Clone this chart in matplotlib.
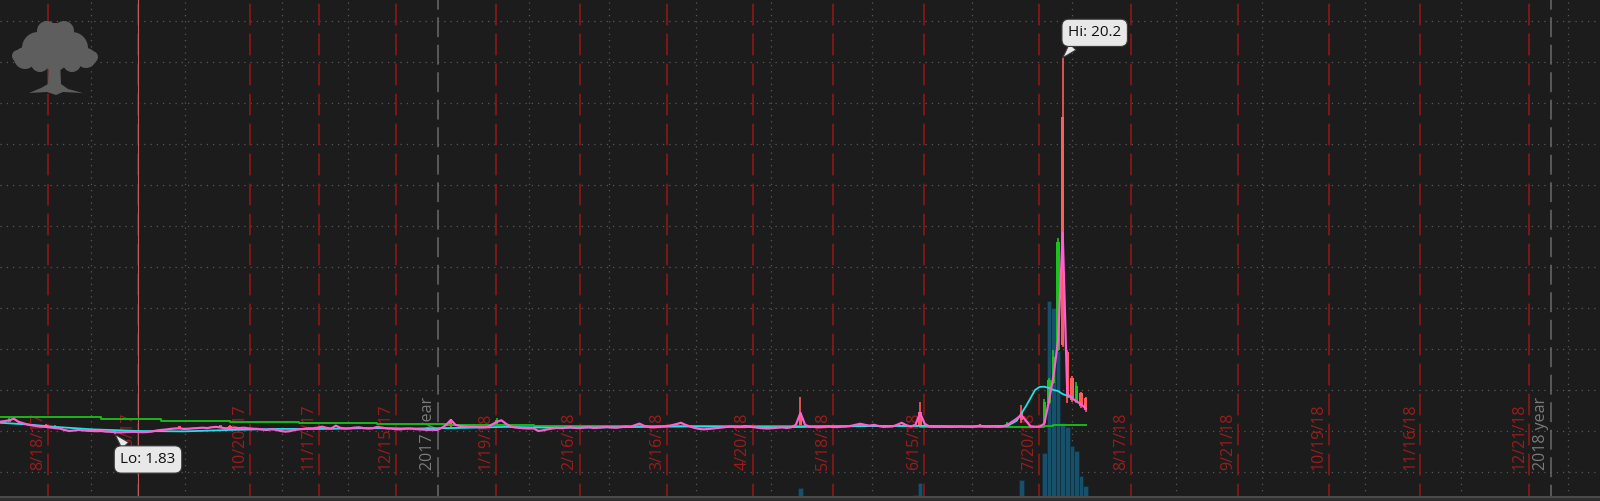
import matplotlib
matplotlib.use("Agg")
import matplotlib.pyplot as plt
import matplotlib.transforms as mtransforms
from matplotlib.patches import Circle, Polygon

# x axis = trading bar index (one unit per bar)
close_line = [
    2.45, 2.48, 2.52, 2.60, 2.45, 2.38, 2.31, 2.27, 2.24, 2.21,
    2.20, 2.17, 2.14, 2.12, 2.05, 2.00, 2.02, 2.05, 2.03, 2.01,
    2.00, 1.99, 2.00, 1.97, 1.96, 1.94, 1.93, 1.94, 1.95, 1.96,
    1.95, 1.94, 1.95, 1.97, 2.02, 2.05, 2.07, 2.10, 2.12, 2.13,
    2.10, 2.11, 2.13, 2.14, 2.16, 2.14, 2.18, 2.20, 2.17, 2.13,
    2.15, 2.16, 2.14, 2.16, 2.13, 2.11, 2.10, 2.07, 2.05, 2.08,
    2.06, 2.00, 1.97, 1.99, 2.05, 2.08, 2.10, 2.13, 2.13, 2.16,
    2.21, 2.15, 2.12, 2.26, 2.15, 2.12, 2.13, 2.16, 2.18, 2.14,
    2.12, 2.13, 2.20, 2.16, 2.13, 2.12, 2.09, 2.08, 2.11, 2.12,
    2.10, 2.08, 2.07, 2.05, 2.06, 2.05, 2.15, 2.30, 2.54, 2.30,
    2.24, 2.22, 2.20, 2.20, 2.19, 2.18, 2.20, 2.32, 2.45, 2.52,
    2.35, 2.22, 2.17, 2.15, 2.13, 2.12, 2.13, 2.00, 2.03, 2.08,
    2.12, 2.15, 2.14, 2.16, 2.18, 2.15, 2.14, 2.17, 2.19, 2.15,
    2.16, 2.18, 2.20, 2.17, 2.16, 2.19, 2.22, 2.20, 2.28, 2.36,
    2.25, 2.20, 2.18, 2.20, 2.22, 2.24, 2.28, 2.33, 2.40, 2.30,
    2.22, 2.15, 2.10, 2.08, 2.10, 2.12, 2.15, 2.17, 2.20, 2.22,
    2.20, 2.20, 2.24, 2.22, 2.18, 2.15, 2.13, 2.12, 2.14, 2.16,
    2.18, 2.15, 2.18, 2.30, 2.88, 2.30, 2.20, 2.20, 2.18, 2.20,
    2.21, 2.20, 2.19, 2.21, 2.22, 2.25, 2.30, 2.35, 2.30, 2.26,
    2.30, 2.24, 2.20, 2.21, 2.22, 2.30, 2.40, 2.28, 2.22, 2.30,
    2.88, 2.35, 2.22, 2.20, 2.20, 2.21, 2.20, 2.20, 2.21, 2.22,
    2.21, 2.20, 2.22, 2.26, 2.22, 2.21, 2.22, 2.20, 2.23, 2.30,
    2.45, 2.60, 2.78, 2.50, 2.23, 2.21, 2.22, 2.35, 3.45, 4.70,
    6.40, 11.67, 3.80, 3.60, 3.45, 3.30, 3.10,
]

fast_idx = [0, 6, 12, 20, 30, 40, 50, 60, 70, 80, 90, 100, 110, 120, 130, 140,
            150, 160, 170, 180, 190, 200, 210, 219, 221, 223, 225, 226, 227,
            228, 229, 230, 231, 232, 233]
fast_val = [2.40, 2.32, 2.20, 2.08, 2.00, 1.98, 2.05, 2.10, 2.10, 2.14, 2.12,
            2.15, 2.20, 2.16, 2.17, 2.20, 2.22, 2.20, 2.18, 2.22, 2.24, 2.25,
            2.23, 2.25, 2.50, 3.20, 4.00, 4.15, 4.16, 4.10, 4.00, 3.95, 3.80,
            3.72, 3.65]

slow_idx = [0, 22, 35, 50, 65, 82, 97, 116, 160, 200, 226, 227, 229, 236]
slow_val = [2.70, 2.58, 2.50, 2.43, 2.37, 2.33, 2.27, 2.25, 2.22, 2.20, 2.20,
            2.26, 2.28, 2.29]

candle_idx = [2, 10, 12, 25, 39, 48, 50, 98, 108, 129, 139, 143, 147, 156,
              174, 200, 213, 219, 222, 227, 228, 229, 230, 231, 232, 233, 234,
              235, 236]
candle_open = [2.45, 2.30, 2.12, 1.96, 2.22, 2.15, 2.25, 2.45, 2.30, 2.26, 2.35,
               2.28, 2.36, 2.14, 2.90, 2.95, 2.30, 2.20, 2.94, 2.37, 3.37, 4.34,
               5.95, 17.30, 5.87, 4.60, 3.40, 3.85, 3.60]
candle_high = [2.65, 2.32, 2.28, 1.99, 2.25, 2.30, 2.27, 2.60, 2.62, 2.30, 2.40,
               2.30, 2.38, 2.28, 3.67, 3.43, 2.35, 2.42, 3.27, 3.55, 4.60, 5.95,
               11.40, 20.20, 5.95, 4.70, 4.40, 3.90, 3.67]
candle_low = [2.42, 2.18, 2.10, 1.83, 2.10, 2.13, 2.12, 2.20, 2.28, 2.13, 2.20,
              2.16, 2.22, 2.12, 2.22, 2.20, 2.18, 2.18, 2.39, 2.30, 3.30, 4.30,
              5.90, 6.11, 3.35, 3.40, 3.35, 3.12, 2.94]
candle_close = [2.60, 2.20, 2.25, 1.93, 2.12, 2.27, 2.14, 2.30, 2.55, 2.15, 2.25,
                2.18, 2.24, 2.26, 2.30, 2.30, 2.20, 2.38, 2.54, 3.43, 4.49, 5.62,
                11.23, 6.20, 3.60, 3.50, 4.20, 3.20, 3.00]

vol_idx = [173, 174, 199, 200, 221, 222, 227, 228, 229, 230, 231, 232, 233,
           234, 235, 236]
vol_m = [0.1, 0.9, 0.2, 1.4, 0.1, 1.7, 4.4, 19.6, 18.9, 14.6, 7.4, 7.0, 5.1,
         4.6, 2.1, 1.1]

tick_pos = [10.4, 30, 54.3, 69.3, 86, 107.8, 126, 145, 163.7, 181, 200.9,
            225.9, 245.9, 269.1, 288.9, 308.7, 332.4]
tick_labels = ['8/18/17', '9/15/17', '10/20/17', '11/17/17', '12/15/17',
               '1/19/18', '2/16/18', '3/16/18', '4/20/18', '5/18/18',
               '6/15/18', '7/20/18', '8/17/18', '9/21/18', '10/19/18',
               '11/16/18', '12/21/18']
year_pos = [95.2, 337.2]
year_labels = ['2017 year', '2018 year']
minor_pos = [19.8, 40.2, 61.3, 75.7, 115, 132.4, 151.3, 167.6, 189.6, 211.3,
             233, 255.7, 274.3, 296.7, 317.6, 340.9]
cursor_pos = 30
price_grid = [0, 2, 4, 6, 8, 10, 12, 14, 16, 18, 20, 22]

hi_idx, hi_val = 231, 20.2
lo_idx, lo_val = 25, 1.83

BG = '#1c1c1c'
RED_T = '#8e1818'
UP = '#1cc21c'
DN = '#ff5c5c'

fig = plt.figure(figsize=(16, 5.01), dpi=100, facecolor='#2e2e2e')
ax = fig.add_axes([0, 4 / 501, 1, 497 / 501])
ax.set_facecolor(BG)
ax.set_xlim(0, 347.8)
ax.set_ylim(-1.22, 23.02)
ax.set_xticks([])
ax.set_yticks([])
for s in ['top', 'left', 'right']:
    ax.spines[s].set_visible(False)
ax.spines['bottom'].set_color('#4a4a4a')
ax.spines['bottom'].set_linewidth(1.5)

# grid
for p in price_grid:
    ax.axhline(p, color='#585858', lw=0.9, ls=(0, (1.0, 4.0)), zorder=0.5)
for m in minor_pos:
    ax.axvline(m, color='#585858', lw=0.9, ls=(0, (1.0, 4.0)), zorder=0.5)

# month lines and labels
xt = ax.get_xaxis_transform()
lab_tr = mtransforms.offset_copy(xt, fig=fig, x=-2, y=0, units='dots')
for pos, lab in zip(tick_pos, tick_labels):
    ax.axvline(pos, color=RED_T, lw=1.2, ls=(5, (13, 5)), zorder=0.6)
    ax.text(pos, 0.055, lab, transform=lab_tr, rotation=90, ha='right',
            va='bottom', color='#9a1c1c', fontsize=11.5, family='Open Sans',
            zorder=0.7)
for pos, lab in zip(year_pos, year_labels):
    ax.axvline(pos, color='#6a6a6a', lw=1.1, ls=(5, (13, 5)), zorder=0.6)
    ax.text(pos, 0.055, lab, transform=lab_tr, rotation=90, ha='right',
            va='bottom', color='#7a7a7a', fontsize=11.5, family='Open Sans',
            zorder=0.7)
ax.axvline(cursor_pos, color='#c05a5a', lw=0.8, zorder=0.65)

# volume, scaled to the lower part of the panel
vol_top = 49.7
ax.bar(vol_idx, [v / vol_top for v in vol_m], width=1.0, bottom=0,
       color='#16506a', edgecolor='#0e2c3a', linewidth=0.5,
       transform=xt, zorder=1)

# candles
for i, o, h, l, c in zip(candle_idx, candle_open, candle_high, candle_low,
                         candle_close):
    col = UP if c >= o else DN
    ax.vlines(i, l, h, color=col, lw=1.2, zorder=2)
    ax.bar(i, max(abs(c - o), 0.04), bottom=min(o, c), width=0.72, color=col,
           zorder=2)

ax.plot(slow_idx, slow_val, color='#17b817', lw=1.4, drawstyle='steps-post',
        zorder=3)
ax.plot(fast_idx, fast_val, color='#22e3e3', lw=1.3, zorder=3.1)
ax.plot(range(len(close_line)), close_line, color='#ff5fd0', lw=1.6,
        zorder=3.2)

# Hi / Lo bubbles
bub = dict(boxstyle='round,pad=0.4,rounding_size=0.45', fc='#e8e8e8',
           ec='#3a3a3a', lw=0.8)
arr = dict(arrowstyle='wedge,tail_width=0.6,shrink_factor=0.5',
           fc='#e8e8e8', ec='#3a3a3a', lw=0.8, shrinkA=0, shrinkB=0,
           relpos=(0.2, 0.0))
ax.annotate(f'Hi: {hi_val}', xy=(hi_idx, hi_val), xytext=(32, 25),
            textcoords='offset pixels', ha='center', va='center',
            fontsize=11, family='Open Sans', color='#111111', bbox=bub,
            arrowprops=arr, zorder=5)
arr_lo = dict(arr, relpos=(0.2, 1.0))
ax.annotate(f'Lo: {lo_val}', xy=(lo_idx, lo_val), xytext=(33, -25),
            textcoords='offset pixels', ha='center', va='center',
            fontsize=11, family='Open Sans', color='#111111', bbox=bub,
            arrowprops=arr_lo, zorder=5)

# tree logo (pixel coords, origin top-left)
pix = mtransforms.Affine2D().scale(1, -1).translate(0, 501)
tree_col = '#5e5e5e'
for cx, cy, r in [(55, 42, 19), (38, 48, 16), (72, 48, 16), (25, 58, 11),
                  (86, 58, 10), (47, 31, 10), (64, 31, 10), (55, 58, 13),
                  (40, 63, 9), (72, 63, 9), (18, 56, 6), (92, 57, 6)]:
    fig.add_artist(Circle((cx, cy), r, transform=pix, fc=tree_col, ec='none'))
trunk = [(49, 60), (60, 60), (61, 84), (68, 89), (83, 93), (63, 92), (56, 95),
         (47, 92), (29, 93), (41, 88), (48, 84)]
fig.add_artist(Polygon(trunk, closed=True, transform=pix, fc=tree_col,
                       ec='none'))

fig.savefig('out.png', dpi=100, facecolor=fig.get_facecolor())
